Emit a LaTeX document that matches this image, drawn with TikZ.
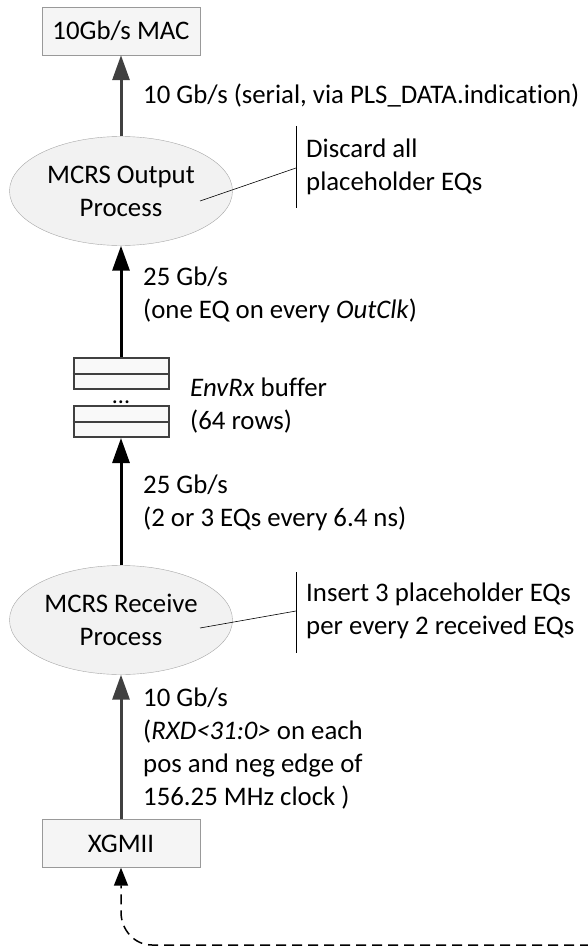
\documentclass[tikz,border=0pt]{standalone}
\usepackage{fontspec}
\setmainfont{Carlito}[Ligatures=NoCommon]
\usetikzlibrary{arrows.meta,shapes.geometric}

\tikzset{
  blockbox/.style={draw=gray!80,fill=gray!8,minimum width=158pt,minimum height=48pt,inner sep=0pt},
  procell/.style={ellipse,draw=gray!70,fill=gray!10,minimum width=223pt,minimum height=109pt,inner sep=0pt,align=center},
  bufrow/.style={draw=black!75,line width=2pt,fill=gray!5,minimum width=95pt,minimum height=31pt,inner sep=0pt},
  flow/.style={line width=3pt,-{Triangle[length=25pt,width=17pt]}},
  lbl/.style={anchor=west,align=left,inner sep=0pt},
  note/.style={black,line width=0.6pt},
}

\begin{document}
\begin{tikzpicture}[x=1pt,y=-1pt,font=\fontsize{26.8}{33}\selectfont]
\useasboundingbox (0,0) rectangle (588,947);
% blocks
\node[blockbox] (mac) at (121,31) {10Gb/s MAC};
\node[procell] (outp) at (121,191) {MCRS Output\\Process};
\node[bufrow] (buftop) at (121,373.5) {};
\node[bufrow] (bufbot) at (121,421.5) {};
\node[font=\fontsize{24}{24}\selectfont,inner sep=0pt,anchor=base] (bufdots) at (121,403) {...};
\node[procell] (recv) at (121,620) {MCRS Receive\\Process};
\node[blockbox] (xg) at (121,843.5) {XGMII};
\draw[black!75,line width=2pt] (buftop.west) -- (buftop.east);
\draw[black!75,line width=2pt] (bufbot.west) -- (bufbot.east);
% connectors
\draw[flow,black!75] (outp.north) -- (mac.south);
\draw[flow] (buftop.north) -- (outp.south);
\draw[flow] (recv.north) -- (bufbot.south);
\draw[flow,black!75] (xg.north) -- (recv.south);
\coordinate (lanend) at (590,945);
\draw[line width=1.5pt,dash pattern=on 10pt off 6pt,-{Triangle[length=18pt,width=14pt]}]
  (lanend) -- (152,945) to[out=180,in=-90] (121,912) -- (xg.south);
% labels
\node[lbl] (lmac) at (143,96) {10 Gb/s (serial, via PLS\_DATA.indication)};
\node[lbl] (lout) at (143,295) {25 Gb/s\\(one EQ on every \textit{OutClk})};
\node[lbl] (lbuf) at (190,406) {\textit{EnvRx} buffer\\(64 rows)};
\node[lbl] (lrecv) at (143,503) {25 Gb/s\\(2 or 3 EQs every 6.4 ns)};
\node[lbl] (lxg) at (143,749) {10 Gb/s\\(\textit{RXD<31:0>} on each\\pos and neg edge of\\156.25 MHz clock )};
% callouts
\coordinate (outtip) at (200,201);
\coordinate (outbar) at (296,168);
\draw[note] (296,126) -- (296,208);
\draw[note] (outtip) -- (outbar);
\node[lbl] (noteout) at (306,167) {Discard all\\placeholder EQs};
\coordinate (recvtip) at (200,628);
\coordinate (recvbar) at (296,611);
\draw[note] (296,572) -- (296,653);
\draw[note] (recvtip) -- (recvbar);
\node[lbl] (noterecv) at (306,611) {Insert 3 placeholder EQs\\per every 2 received EQs};
\end{tikzpicture}
\end{document}
